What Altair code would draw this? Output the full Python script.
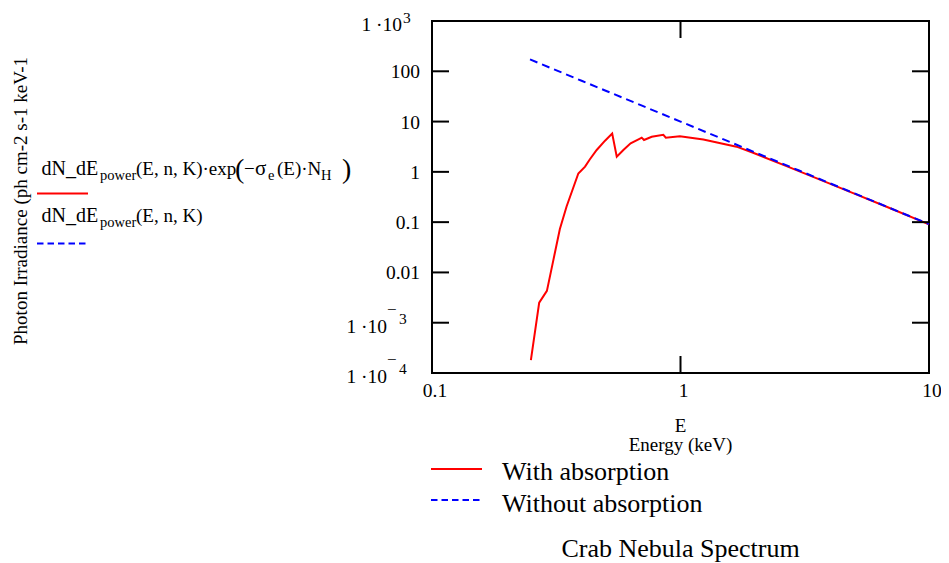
import altair as alt
import pandas as pd

FONT = "Liberation Serif"

# ---- data ----
E_abs = [0.250, 0.270, 0.290, 0.308, 0.327, 0.348, 0.388, 0.413, 0.432, 0.460,
         0.497, 0.531, 0.554, 0.589, 0.630, 0.687, 0.698, 0.713, 0.766, 0.853,
         0.873, 0.994, 1.236, 1.68, 1.96, 2.67, 3.64, 4.95, 6.75, 10.0]
flux_abs = [1.8e-4, 2.5e-3, 4.3e-3, 0.0178, 0.073, 0.205, 0.93, 1.27, 1.78, 2.72,
            4.17, 5.8, 2.0, 2.72, 3.7, 4.6, 4.79, 4.31, 5.0, 5.45,
            4.79, 5.1, 4.4, 3.17, 2.4, 1.3, 0.70, 0.378, 0.202, 0.0905]

E_pow = [0.248, 0.3, 0.4, 0.5, 0.7, 1.0, 1.5, 2.0, 3.0, 5.0, 7.0, 10.0]
flux_pow = [172, 116.6, 64.8, 41.1, 20.7, 10.0, 4.37, 2.43, 1.064, 0.375, 0.189, 0.0912]

x_ticks = [0.1, 1, 10]
x_tick_labels = ["0.1", "1", "10"]
x_inner_ticks = [1]
y_ticks = [1e3, 100, 10, 1, 0.1, 0.01, 1e-3, 1e-4]
y_tick_labels = ["1 ·10", "100", "10", "1", "0.1", "0.01", "1 ·10", "1 ·10"]
y_sup_sign = ["", "", "", "", "", "", "−", "−"]
y_sup_digit = ["3", "", "", "", "", "", "3", "4"]

W, H = 497, 352
TICK_FS = 19.5

abs_df = pd.DataFrame({"E": E_abs, "F": flux_abs})
pow_df = pd.DataFrame({"E": E_pow, "F": flux_pow})
ylab_df = pd.DataFrame({"F": y_ticks, "label": y_tick_labels,
                        "sign": y_sup_sign, "digit": y_sup_digit})
xlab_df = pd.DataFrame({"E": x_ticks, "label": x_tick_labels})
ytick_df = pd.DataFrame({"F": y_ticks})
xtick_df = pd.DataFrame({"E": x_inner_ticks})
one = pd.DataFrame({"k": [0]})

xscale = alt.Scale(type="log", domain=[0.1, 10], nice=False)
yscale = alt.Scale(type="log", domain=[1e-4, 1e3], nice=False)

red = alt.Chart(abs_df).mark_line(color="#ff0000", strokeWidth=2).encode(
    x=alt.X("E:Q", scale=xscale, axis=None),
    y=alt.Y("F:Q", scale=yscale, axis=None),
)
blue = alt.Chart(pow_df).mark_line(color="#0000ff", strokeWidth=2,
                                   strokeDash=[8, 5]).encode(
    x=alt.X("E:Q", scale=xscale, axis=None),
    y=alt.Y("F:Q", scale=yscale, axis=None),
)

# inward tick marks
tick_kw = dict(color="black", strokeWidth=2)
yt_left = alt.Chart(ytick_df).mark_rule(**tick_kw).encode(
    y=alt.Y("F:Q", scale=yscale, axis=None), x=alt.value(0), x2=alt.value(17))
yt_right = alt.Chart(ytick_df).mark_rule(**tick_kw).encode(
    y=alt.Y("F:Q", scale=yscale, axis=None), x=alt.value(W - 17), x2=alt.value(W))
xt_top = alt.Chart(xtick_df).mark_rule(**tick_kw).encode(
    x=alt.X("E:Q", scale=xscale, axis=None), y=alt.value(0), y2=alt.value(17))
xt_bot = alt.Chart(xtick_df).mark_rule(**tick_kw).encode(
    x=alt.X("E:Q", scale=xscale, axis=None), y=alt.value(H - 17), y2=alt.value(H))

# x tick labels
xl = alt.Chart(xlab_df).mark_text(
    font=FONT, fontSize=TICK_FS, dx=3, align="center", baseline="alphabetic",
    color="black").encode(
    x=alt.X("E:Q", scale=xscale, axis=None), y=alt.value(H + 24),
    text=alt.Text("label:N"))


# y tick labels
def ylab(filt, field, x, size, dy, align):
    return alt.Chart(ylab_df).transform_filter(filt).mark_text(
        font=FONT, fontSize=size, dy=dy, align=align, baseline="middle",
        color="black").encode(
        y=alt.Y("F:Q", scale=yscale, axis=None), x=alt.value(x),
        text=alt.Text(field + ":N"))


yl_plain = ylab("datum.digit == ''", "label", -12, TICK_FS, 1, "right")
yl_pos_main = ylab("datum.digit != '' && datum.sign == ''", "label", -30, TICK_FS, 4, "right")
yl_pos_sup = ylab("datum.digit != '' && datum.sign == ''", "digit", -29, 15.5, -3, "left")
yl_neg_main = ylab("datum.sign != ''", "label", -45, TICK_FS, 4, "right")
yl_neg_sign = ylab("datum.sign != ''", "sign", -45, 17, -13, "left")
yl_neg_sup = ylab("datum.sign != ''", "digit", -33, 15.5, -4, "left")


def txt(s, x, y, size, align="left", baseline="alphabetic", angle=0):
    kw = dict(font=FONT, fontSize=size, align=align, baseline=baseline, color="black")
    if angle:
        kw["angle"] = angle
    return alt.Chart(one).mark_text(**kw).encode(
        x=alt.value(x), y=alt.value(y), text=alt.value(s))


def seg(x1, x2, y, color, dash=None):
    kw = dict(color=color, strokeWidth=2)
    if dash:
        kw["strokeDash"] = dash
    return alt.Chart(one).mark_rule(**kw).encode(
        x=alt.value(x1), x2=alt.value(x2), y=alt.value(y))


annot = [
    # y axis title
    txt("Photon Irradiance (ph cm-2 s-1 keV-1", -411, 180, 19,
        align="center", baseline="middle", angle=270),
    # x axis title
    txt("E", W / 2, 411, 19, align="center"),
    txt("Energy (keV)", W / 2, 430, 19, align="center"),
    # left legend, line 1
    txt("dN_dE", -390.5, 154, 20),
    txt("power", -332, 159, 14.5),
    txt("(E, n, K)·exp", -296, 154, 19),
    txt("(", -197, 157, 28),
    txt("−", -188, 154, 19),
    txt("σ", -177, 154, 21),
    txt("e", -164, 159, 14.5),
    txt("(E)·N", -155, 154, 19),
    txt("H", -111, 159, 14.5),
    txt(")", -90, 157, 28),
    seg(-395, -344, 172.5, "#ff0000"),
    # left legend, line 2
    txt("dN_dE", -390.5, 201, 20),
    txt("power", -332, 206, 14.5),
    txt("(E, n, K)", -296, 201, 19),
    seg(-395, -344, 222.5, "#0000ff", [6.5, 4]),
    # bottom legend
    seg(-1, 50, 448, "#ff0000"),
    txt("With absorption", 70, 459, 26),
    seg(-1, 50, 479, "#0000ff", [6.5, 4]),
    txt("Without absorption", 70, 491, 26),
    # caption
    txt("Crab Nebula Spectrum", W / 2, 536, 26, align="center"),
]

chart = alt.layer(
    red, blue, yt_left, yt_right, xt_top, xt_bot, xl,
    yl_plain, yl_pos_main, yl_pos_sup, yl_neg_main, yl_neg_sign, yl_neg_sup,
    *annot,
).properties(
    width=W, height=H,
    autosize=alt.AutoSizeParams(type="none"),
    padding={"left": 424, "top": 13, "right": 12, "bottom": 190},
    background="white",
).configure_view(stroke="black", strokeWidth=2)

chart.save("out.html", embed_options={"renderer": "svg", "actions": False})
